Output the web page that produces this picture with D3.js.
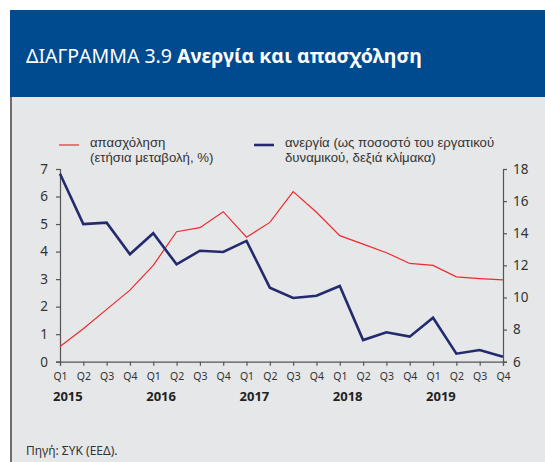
<!DOCTYPE html>
<html>
<head>
<meta charset="utf-8">
<script src="https://cdn.jsdelivr.net/npm/d3@7"></script>
<style>
  body { margin: 0; background: #fff; }
  svg { display: block; font-family: "Noto Sans", "Open Sans", sans-serif; }
</style>
</head>
<body>
<script>
// quarters and years
var quarters = ["Q1","Q2","Q3","Q4","Q1","Q2","Q3","Q4","Q1","Q2","Q3","Q4","Q1","Q2","Q3","Q4","Q1","Q2","Q3","Q4"];
var years = ["2015","2016","2017","2018","2019"];

// employment, annual change % (left axis)
var employment = [0.55,1.2,1.9,2.6,3.5,4.72,4.87,5.45,4.52,5.06,6.18,5.43,4.58,4.27,3.96,3.57,3.5,3.08,3.02,2.97];
// unemployment, % of labour force (right axis)
var unemployment = [17.7,14.57,14.66,12.69,14.0,12.06,12.91,12.83,13.52,10.61,9.97,10.11,10.71,7.35,7.83,7.56,8.74,6.5,6.73,6.31];

var leftTicks = [0,1,2,3,4,5,6,7];
var rightTicks = [6,8,10,12,14,16,18];

var width = 545, height = 462;
var textCol = "#333";

var svg = d3.select("body").append("svg")
    .attr("width", width)
    .attr("height", height);

// panel + header
svg.append("rect").attr("x",10).attr("y",97).attr("width",width-10).attr("height",height-97).attr("fill","#e6e7e8");
svg.append("rect").attr("x",10).attr("y",97).attr("width",2).attr("height",height-97).attr("fill","#6d6e70");
svg.append("rect").attr("x",10).attr("y",10).attr("width",width-10).attr("height",87).attr("fill","#004a8f");

var title = svg.append("text").attr("x",26).attr("y",63).attr("fill","#fff").attr("font-size",19.5);
title.append("tspan").text("ΔΙΑΓΡΑΜΜΑ 3.9 ");
title.append("tspan").attr("font-weight","bold").text("Ανεργία και απασχόληση");

// scales
var x = d3.scalePoint().domain(d3.range(quarters.length)).range([60, 503]);
var yL = d3.scaleLinear().domain([0,7]).range([361.7,169]);
var yR = d3.scaleLinear().domain([6,18]).range([361.7,169]);

// axes
var gL = svg.append("g").attr("transform","translate(60,0)")
    .call(d3.axisLeft(yL).tickValues(leftTicks).tickFormat(d3.format("d")).tickSize(4).tickPadding(8));
var gR = svg.append("g").attr("transform","translate(503,0)")
    .call(d3.axisRight(yR).tickValues(rightTicks).tickFormat(d3.format("d")).tickSize(4).tickPadding(6));
var gB = svg.append("g").attr("transform","translate(0,361.7)")
    .call(d3.axisBottom(x).tickSize(4).tickPadding(7).tickFormat(function(i){ return quarters[i]; }));

[gL,gR,gB].forEach(function(g){
  g.select(".domain").attr("stroke","#555").attr("stroke-width",1.2);
  g.selectAll(".tick line").attr("stroke","#555").attr("stroke-width",1.2);
  g.selectAll(".tick text").attr("fill",textCol).attr("font-family","\"Noto Sans\", sans-serif");
});
gL.selectAll(".tick text").attr("font-size",13.5);
gR.selectAll(".tick text").attr("font-size",13.5);
gB.selectAll(".tick text").attr("font-size",10.5).attr("font-family","\"Liberation Sans Narrow\", \"Noto Sans\", sans-serif");

// year labels
svg.selectAll(".year").data(years).enter().append("text")
    .attr("class","year")
    .attr("x", function(d,i){ return x(i*4) - 7; })
    .attr("y", 401)
    .attr("font-size",13).attr("font-weight","bold").attr("fill","#222")
    .text(function(d){ return d; });

// lines
var lineL = d3.line().x(function(d,i){ return x(i); }).y(function(d){ return yL(d); });
var lineR = d3.line().x(function(d,i){ return x(i); }).y(function(d){ return yR(d); });

svg.append("path").datum(employment).attr("d",lineL)
    .attr("fill","none").attr("stroke","#ee2a2f").attr("stroke-width",1.2);
svg.append("path").datum(unemployment).attr("d",lineR)
    .attr("fill","none").attr("stroke","#232a6e").attr("stroke-width",2.6).attr("stroke-linejoin","miter");

// legend
var legend = [
  {x:59, col:"#ee2a2f", w:1.2, lines:["απασχόληση","(ετήσια μεταβολή, %)"]},
  {x:254, col:"#232a6e", w:2.6, lines:["ανεργία (ως ποσοστό του εργατικού","δυναμικού, δεξιά κλίμακα)"]}
];
legend.forEach(function(l){
  svg.append("line").attr("x1",l.x).attr("x2",l.x+20).attr("y1",145).attr("y2",145)
     .attr("stroke",l.col).attr("stroke-width",l.w);
  l.lines.forEach(function(s,k){
    svg.append("text").attr("x",l.x+31).attr("y",147 + k*14.8)
       .attr("font-family","\"Liberation Sans\", sans-serif")
       .attr("font-size",13.2).attr("fill",textCol).text(s);
  });
});

// source
svg.append("text").attr("x",26).attr("y",455).attr("font-size",12).attr("fill",textCol).text("Πηγή: ΣΥΚ (ΕΕΔ).");
</script>
</body>
</html>
